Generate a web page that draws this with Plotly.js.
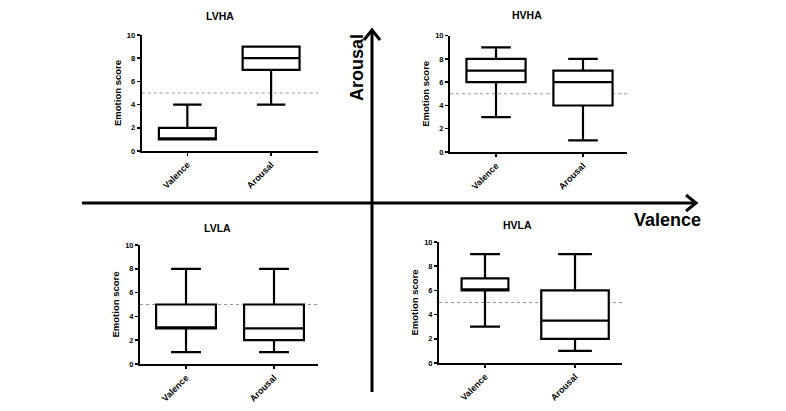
<!DOCTYPE html>
<html>
<head>
<meta charset="utf-8">
<script src="https://cdn.plot.ly/plotly-3.0.1.min.js"></script>
<style>html,body{margin:0;padding:0;background:#fff;}#chart{width:786px;height:411px;}</style>
</head>
<body>
<div id="chart"></div>
<script>
// ---- data ----
const categories = ['Valence', 'Arousal'];
const panelNames = ['LVHA', 'HVHA', 'LVLA', 'HVLA'];
const neutralLine = 5;

const lvhaLower = [1, 4], lvhaQ1 = [1, 7], lvhaMedian = [1, 8], lvhaQ3 = [2, 9], lvhaUpper = [4, 9];
const hvhaLower = [3, 1], hvhaQ1 = [6, 4], hvhaMedian = [7, 6], hvhaQ3 = [8, 7], hvhaUpper = [9, 8];
const lvlaLower = [1, 1], lvlaQ1 = [3, 2], lvlaMedian = [3, 3], lvlaQ3 = [5, 5], lvlaUpper = [8, 8];
const hvlaLower = [3, 1], hvlaQ1 = [6, 2], hvlaMedian = [6, 3.5], hvlaQ3 = [7, 6], hvlaUpper = [9, 9];

const panelData = [
  {lower: lvhaLower, q1: lvhaQ1, median: lvhaMedian, q3: lvhaQ3, upper: lvhaUpper},
  {lower: hvhaLower, q1: hvhaQ1, median: hvhaMedian, q3: hvhaQ3, upper: hvhaUpper},
  {lower: lvlaLower, q1: lvlaQ1, median: lvlaMedian, q3: lvlaQ3, upper: lvlaUpper},
  {lower: hvlaLower, q1: hvlaQ1, median: hvlaMedian, q3: hvlaQ3, upper: hvlaUpper}
];

// ---- layout / style ----
const W = 786, H = 411;
const px = v => v / W;
const py = v => 1 - v / H;

const panelStyle = [
  {x0: 141.7, x1: 318, y0: 151, y1: 35,  xr: [-0.545, 1.56], widths: [0.68, 0.68], whisk: [0.5, 0.5], tx: 220, ty: 16},
  {x0: 450,   x1: 627, y0: 152, y1: 35.7, xr: [-0.529, 1.506], widths: [0.68, 0.68], whisk: [0.5, 0.5], tx: 527, ty: 15},
  {x0: 140,   x1: 318, y0: 364, y1: 245, xr: [-0.523, 1.5], widths: [0.68, 0.68], whisk: [0.5, 0.5], tx: 218, ty: 228},
  {x0: 439,   x1: 622, y0: 363, y1: 242, xr: [-0.511, 1.522], widths: [0.52, 0.75], whisk: [0.64, 0.5], tx: 517, ty: 225}
];

const FONT = 'Arial, "Liberation Sans", sans-serif';
const traces = [];
const layout = {
  width: W, height: H,
  margin: {l: 0, r: 0, t: 0, b: 0},
  paper_bgcolor: '#fff', plot_bgcolor: '#fff',
  showlegend: false,
  font: {family: FONT, color: '#000'},
  shapes: [], annotations: []
};

panelData.forEach((d, p) => {
  const s = panelStyle[p];
  const n = p === 0 ? '' : String(p + 1);
  categories.forEach((c, i) => {
    traces.push({
      type: 'box',
      x: [c],
      lowerfence: [d.lower[i]], q1: [d.q1[i]], median: [d.median[i]], q3: [d.q3[i]], upperfence: [d.upper[i]],
      width: s.widths[i],
      whiskerwidth: s.whisk[i],
      fillcolor: '#ffffff',
      line: {color: '#000', width: 2.2},
      boxpoints: false,
      hoverinfo: 'skip',
      xaxis: 'x' + n, yaxis: 'y' + n
    });
  });
  layout['xaxis' + n] = {
    domain: [px(s.x0), px(s.x1)],
    anchor: 'y' + n,
    type: 'category',
    categoryorder: 'array', categoryarray: categories,
    range: s.xr,
    showline: true, linecolor: '#000', linewidth: 2,
    ticks: 'outside', ticklen: 3, tickwidth: 1.5, tickcolor: '#000',
    tickangle: -45,
    tickfont: {family: FONT, size: 9, color: '#000', weight: 'bold'},
    showgrid: false, zeroline: false, fixedrange: true
  };
  layout['yaxis' + n] = {
    domain: [py(s.y0), py(s.y1)],
    anchor: 'x' + n,
    range: [0, 10], dtick: 2,
    showline: true, linecolor: '#000', linewidth: 2,
    ticks: 'outside', ticklen: 3, tickwidth: 1.5, tickcolor: '#000',
    tickfont: {family: FONT, size: 7.5, color: '#000', weight: 'bold'},
    title: {text: 'Emotion score', font: {family: FONT, size: 9.5, color: '#000', weight: 'bold'}, standoff: 4},
    showgrid: false, zeroline: false, fixedrange: true
  };
  layout.shapes.push({
    type: 'line', xref: 'x' + n + ' domain', yref: 'y' + n,
    x0: 0, x1: 1, y0: neutralLine, y1: neutralLine,
    line: {color: '#9a9a9a', width: 1, dash: 'dot'}, layer: 'below'
  });
  layout.annotations.push({
    text: panelNames[p], xref: 'paper', yref: 'paper', x: px(s.tx), y: py(s.ty),
    showarrow: false, xanchor: 'center', yanchor: 'middle',
    font: {family: FONT, size: 10.5, color: '#000', weight: 'bold'}
  });
});

// big quadrant axes
const axW = 3;
layout.shapes.push(
  {type: 'line', xref: 'paper', yref: 'paper', x0: px(372), x1: px(372), y0: py(392), y1: py(31), line: {color: '#000', width: axW}},
  {type: 'path', xref: 'paper', yref: 'paper',
   path: `M ${px(364)},${py(40)} L ${px(372)},${py(30)} L ${px(380)},${py(40)}`, line: {color: '#000', width: axW}},
  {type: 'line', xref: 'paper', yref: 'paper', x0: px(82), x1: px(695), y0: py(203), y1: py(203), line: {color: '#000', width: axW}},
  {type: 'path', xref: 'paper', yref: 'paper',
   path: `M ${px(686)},${py(195)} L ${px(696)},${py(203)} L ${px(686)},${py(211)}`, line: {color: '#000', width: axW}}
);
layout.annotations.push(
  {text: 'Arousal', xref: 'paper', yref: 'paper', x: px(357), y: py(68), textangle: -90,
   showarrow: false, xanchor: 'center', yanchor: 'middle',
   font: {family: FONT, size: 18, color: '#000', weight: 'bold'}},
  {text: 'Valence', xref: 'paper', yref: 'paper', x: px(667), y: py(220),
   showarrow: false, xanchor: 'center', yanchor: 'middle',
   font: {family: FONT, size: 18, color: '#000', weight: 'bold'}}
);

Plotly.newPlot('chart', traces, layout, {staticPlot: true, displayModeBar: false});
</script>
</body>
</html>
